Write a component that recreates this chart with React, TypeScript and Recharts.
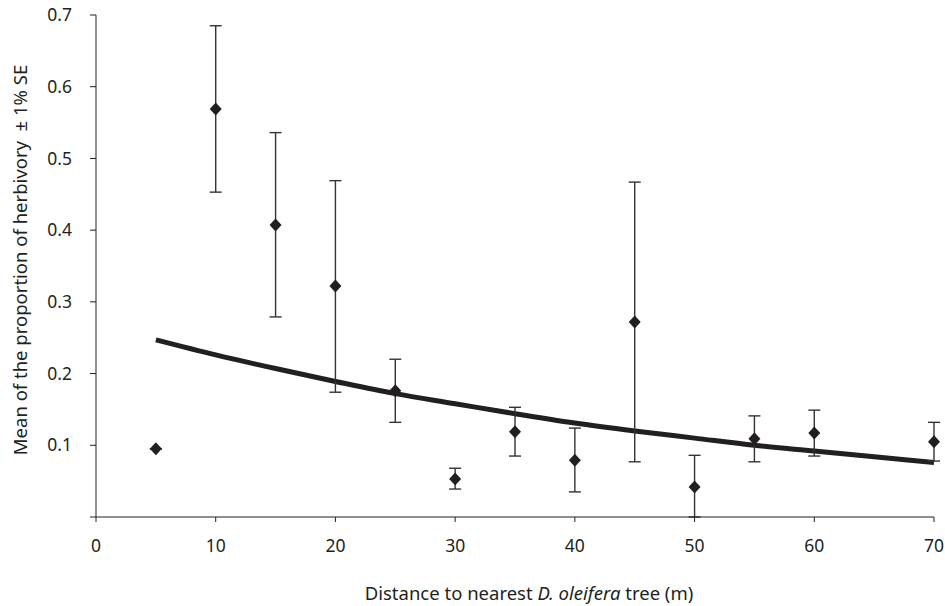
import React from 'react';
import { ComposedChart, Line, Scatter, ErrorBar, XAxis, YAxis } from 'recharts';

// distance to nearest tree (m)
const distances = [5, 10, 15, 20, 25, 30, 35, 40, 45, 50, 55, 60, 70];
const meanHerbivory = [0.095, 0.569, 0.407, 0.322, 0.176, 0.053, 0.119, 0.079, 0.272, 0.042, 0.109, 0.117, 0.105];
const seLow = [0, 0.116, 0.128, 0.148, 0.044, 0.014, 0.034, 0.044, 0.195, 0.042, 0.032, 0.032, 0.027];
const seHigh = [0, 0.116, 0.129, 0.147, 0.044, 0.015, 0.034, 0.045, 0.195, 0.044, 0.032, 0.032, 0.027];

// fitted trend curve
const trendX = [5, 10, 15, 20, 25, 30, 35, 40, 45, 50, 55, 60, 65, 70];
const trendY = [0.247, 0.226, 0.207, 0.189, 0.172, 0.158, 0.144, 0.131, 0.12, 0.11, 0.1, 0.092, 0.084, 0.076];

const xTicks = [0, 10, 20, 30, 40, 50, 60, 70];
const yTicks = [0, 0.1, 0.2, 0.3, 0.4, 0.5, 0.6, 0.7];

const points = distances.map((x, i) => ({ x, y: meanHerbivory[i], err: [seLow[i], seHigh[i]] }));
const trend = trendX.map((x, i) => ({ x, trend: trendY[i] }));

const ink = '#231f20';
const font = '"Noto Sans", sans-serif';

const Diamond = (props: any) => {
  const { cx, cy } = props;
  if (cx == null || cy == null) return null;
  return <polygon points={`${cx},${cy - 6.5} ${cx + 6},${cy} ${cx},${cy + 6.5} ${cx - 6},${cy}`} fill={ink} />;
};

const App: React.FC = () => {
  return (
    <div style={{ position: 'absolute', left: 0, top: 0, width: 945, height: 606, background: '#fff' }}>
      <ComposedChart width={945} height={606} margin={{ top: 15, right: 11, bottom: 29, left: 40 }}>
        <XAxis
          dataKey="x"
          type="number"
          domain={[0, 70]}
          ticks={xTicks}
          height={60}
          tickSize={5}
          tickMargin={18}
          stroke={ink}
          tick={{ fill: ink, fontSize: 17.5, fontFamily: font }}
          label={{
            content: () => (
              <text x={529} y={600} textAnchor="middle" fill={ink} fontSize={18.5} fontFamily={font}>
                Distance to nearest <tspan fontStyle="italic">D. oleifera</tspan> tree (m)
              </text>
            ),
          }}
        />
        <YAxis
          type="number"
          domain={[0, 0.7]}
          ticks={yTicks}
          allowDataOverflow
          width={56}
          tickSize={6}
          tickMargin={18}
          stroke={ink}
          tickFormatter={(v: number) => (v === 0 ? '' : String(v))}
          tick={{ fill: ink, fontSize: 17.5, fontFamily: font }}
          label={{
            content: () => (
              <text
                x={27}
                y={260}
                transform="rotate(-90, 27, 260)"
                textAnchor="middle"
                fill={ink}
                fontSize={18.5}
                fontFamily={font}
              >
                {'Mean of the proportion of herbivory \u00a0\u00b1 1% SE'}
              </text>
            ),
          }}
        />
        <Line
          data={trend}
          dataKey="trend"
          type="monotone"
          stroke={ink}
          strokeWidth={5}
          dot={false}
          activeDot={false}
          isAnimationActive={false}
        />
        <Scatter data={points} dataKey="y" shape={<Diamond />} isAnimationActive={false}>
          <ErrorBar dataKey="err" direction="y" width={6} stroke="#333" strokeWidth={1.4} isAnimationActive={false} />
        </Scatter>
      </ComposedChart>
    </div>
  );
};

export default App;
